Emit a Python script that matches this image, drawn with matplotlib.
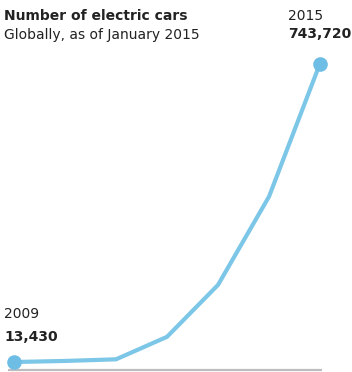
import matplotlib
matplotlib.use('Agg')
import matplotlib.pyplot as plt

# number of electric cars worldwide
years = [2009, 2010, 2011, 2012, 2013, 2014, 2015]
cars = [13430, 16000, 20000, 75000, 202000, 418000, 743720]

title = 'Number of electric cars'
subtitle = 'Globally, as of January 2015'

line_color = '#7cc6e7'
dot_color = '#6dbde5'
text_color = '#222222'

plt.rcParams['font.family'] = ['DejaVu Sans']

W, H = 352, 372
fig = plt.figure(figsize=(W / 100, H / 100), dpi=100)
ax = fig.add_axes([0, 0, 1, 1])

# map data to pixels: first year at x=14px, last at x=320px;
# first value at y=362px, last at y=63.5px (from top)
px_per_year = (320 - 14) / (years[-1] - years[0])
val_per_px = (cars[-1] - cars[0]) / (362 - 63.5)
ax.set_xlim(years[0] - 14 / px_per_year, years[0] + (W - 14) / px_per_year)
ax.set_ylim(cars[0] - (H - 362) * val_per_px, cars[0] + 362 * val_per_px)
ax.axis('off')

# grey baseline under the line
base = cars[0] - 7.5 * val_per_px
ax.plot([years[0] - 6 / px_per_year, years[-1] + 2 / px_per_year], [base, base],
        color='#bdbdbd', lw=1.6, solid_capstyle='butt')

ax.plot(years, cars, color=line_color, lw=3, solid_joinstyle='miter', zorder=2)
ax.plot([years[0], years[-1]], [cars[0], cars[-1]], 'o', color=dot_color,
        ms=10.5, mec='none', zorder=3)

def fx(p):
    return p / W

def fy(p):
    return 1 - p / H

fs = 10
fig.text(fx(4), fy(19.5), title, fontsize=fs, fontweight='bold', color=text_color)
fig.text(fx(4), fy(39), subtitle, fontsize=fs, color=text_color)

fig.text(fx(288), fy(19.5), str(years[-1]), fontsize=fs, color=text_color)
fig.text(fx(288), fy(38.5), f'{cars[-1]:,}', fontsize=fs, fontweight='bold', color=text_color)

fig.text(fx(4), fy(318.5), str(years[0]), fontsize=fs, color=text_color)
fig.text(fx(4), fy(341), f'{cars[0]:,}', fontsize=fs, fontweight='bold', color=text_color)

fig.savefig('out.png', dpi=100)
